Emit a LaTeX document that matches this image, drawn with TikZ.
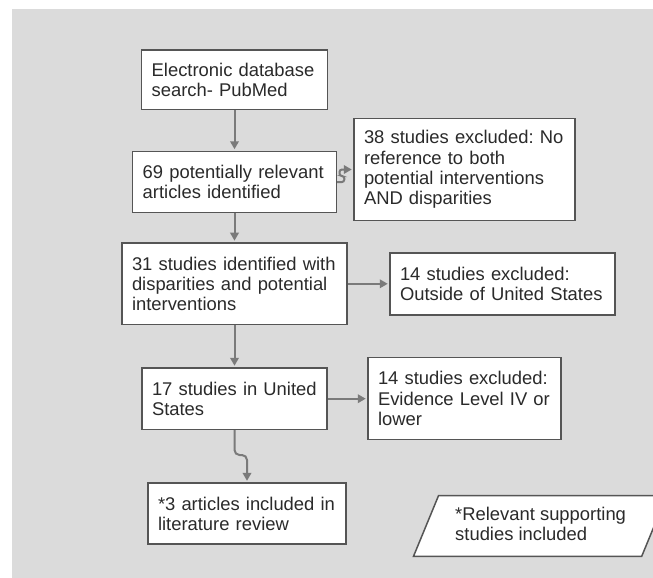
\documentclass[tikz,border=0pt]{standalone}
\usepackage{fontspec}
\setmainfont{Liberation Sans}
\usetikzlibrary{arrows.meta}
\definecolor{bggray}{HTML}{DBDBDB}
\definecolor{boxline}{HTML}{555555}
\definecolor{arrowgray}{HTML}{7A7A7A}
\definecolor{txtgray}{HTML}{2A2A2A}
\begin{document}
\begin{tikzpicture}[x=1pt,y=-1pt,
  flowbox/.style={draw=boxline, line width=1.5pt, fill=white, text=txtgray,
    inner xsep=10pt, inner ysep=0pt, align=left,
    font=\fontsize{18.4}{20.3}\selectfont\frenchspacing},
  notetext/.style={text=txtgray, inner sep=0pt, align=left,
    font=\fontsize{18.4}{20.3}\selectfont\frenchspacing},
  conn/.style={draw=arrowgray, line width=2pt,
    -{Triangle[length=8pt,width=8.5pt]}, shorten >=1.5pt}]
\useasboundingbox (0,0) rectangle (653,578);
\clip (0,0) rectangle (653,578);
\fill[bggray] (12,9) rectangle (653,578);

\node[flowbox, text width=165.6pt, minimum height=59.5pt] (b1) at (234.5,79.8)
  {Electronic database\\search- PubMed};
\node[flowbox, text width=183.6pt, minimum height=61.2pt] (b2) at (234.5,182.1)
  {69 potentially relevant\\articles identified};
\node[flowbox, text width=201pt, minimum height=101.7pt] (b3) at (464.5,169.5)
  {38 studies excluded: No\\reference to both\\potential interventions\\AND disparities};
\node[flowbox, text width=205pt, minimum height=81.7pt] (b4) at (234.5,283.8)
  {31 studies identified with\\disparities and potential\\interventions};
\node[flowbox, text width=205pt, minimum height=62pt] (b5) at (502.5,283.8)
  {14 studies excluded:\\Outside of United States};
\node[flowbox, text width=165pt, minimum height=61.4pt] (b6) at (234.5,398.7)
  {17 studies in United\\States};
\node[flowbox, text width=173pt, minimum height=82pt] (b7) at (464.5,398.7)
  {14 studies excluded:\\Evidence Level IV or\\lower};
\node[flowbox, text width=178pt, minimum height=61pt] (b8) at (247,513.6)
  {*3 articles included in\\literature review};

\draw[draw=boxline, line width=1.5pt, fill=white]
  (438.5,495.7) -- (666.7,495.7) -- (641.7,556.3) -- (413.5,556.3) -- cycle;
\node[notetext, anchor=west] (note) at (455,524)
  {*Relevant supporting\\studies included};

\draw[conn] (b1.south) -- (b2.north);
\draw[conn] (b2.south) -- (b4.north);
\draw[conn] (b4.south) -- (b6.north);
\draw[conn, rounded corners=5pt] (b6.south) -- (234.5,455) -- (247,455) -- (b8.north);
\draw[conn] (b4.east) -- (b5.west);
\draw[conn] (b6.east) -- (b7.west);
\draw[conn, rounded corners=2.5pt] (b2.east) -- (344.3,182.1) -- (344.3,176)
  -- (339.5,176) -- (339.5,169.5) -- (b3.west);
\end{tikzpicture}
\end{document}
